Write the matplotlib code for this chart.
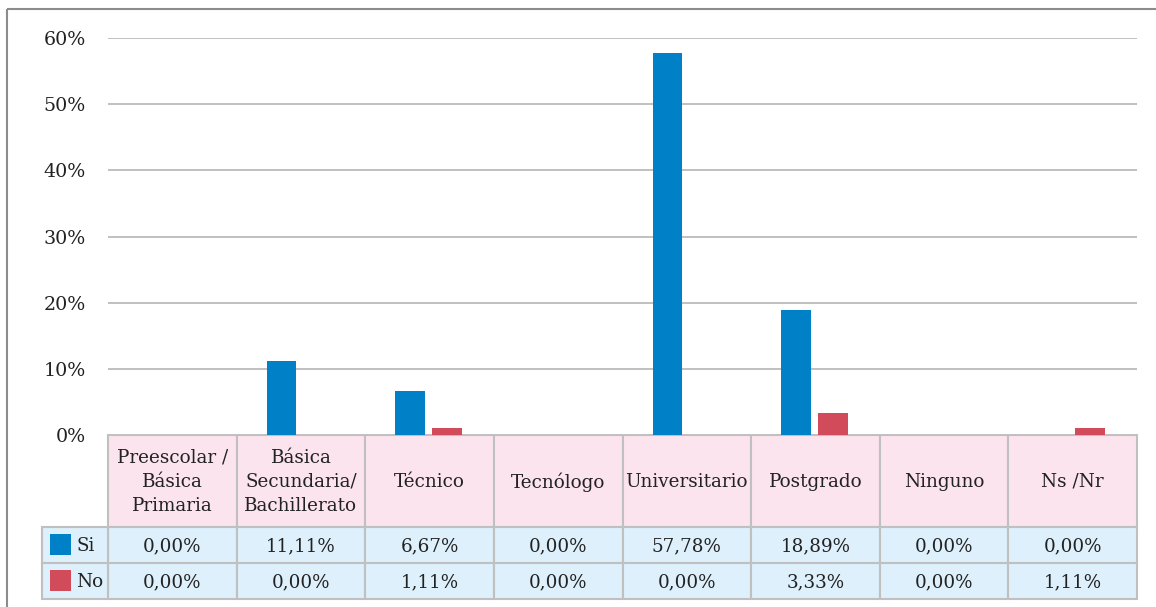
import matplotlib.pyplot as plt
from matplotlib.patches import Rectangle
import numpy as np

# data
categorias = ['Preescolar /\nBásica\nPrimaria', 'Básica\nSecundaria/\nBachillerato',
              'Técnico', 'Tecnólogo', 'Universitario', 'Postgrado', 'Ninguno', 'Ns /Nr']
si = [0.0, 11.11, 6.67, 0.0, 57.78, 18.89, 0.0, 0.0]
no = [0.0, 0.0, 1.11, 0.0, 0.0, 3.33, 0.0, 1.11]
series = ['Si', 'No']
colores = ['#0080C6', '#D14B5A']

W, H = 1156, 607
plt.rcParams['font.family'] = ['DejaVu Serif']
fig = plt.figure(figsize=(W / 100, H / 100), dpi=100)

# pixel layout
x0, x1 = 108, 1137
y_top, y_zero = 38, 435
row_hdr, row_h = 92, 36
leg_x = 42
gray = '#C0C0C0'
fs = 13.2

ax = fig.add_axes([x0 / W, 1 - y_zero / H, (x1 - x0) / W, (y_zero - y_top) / H])
n = len(categorias)
xs = np.arange(n)
bw = 0.23
ax.bar(xs - 0.15, si, bw, color=colores[0], zorder=3)
ax.bar(xs + 0.135, no, bw, color=colores[1], zorder=3)
ax.set_xlim(-0.5, n - 0.5)
ax.set_ylim(0, 60)
ax.set_yticks(range(0, 61, 10))
ax.set_yticklabels([f'{v}%' for v in range(0, 61, 10)], fontsize=fs + 0.5, color='#222222')
ax.tick_params(axis='y', length=0, pad=16)
ax.set_xticks([])
ax.grid(axis='y', color=gray, lw=1.4, zorder=0)
for s in ax.spines.values():
    s.set_visible(False)

# overlay for frame and data table
ov = fig.add_axes([0, 0, 1, 1], zorder=-1)
ov.set_xlim(0, W)
ov.set_ylim(H, 0)
ov.axis('off')
ov.plot([7, 7], [H + 10, 9], color='#8C8C8C', lw=1.5, solid_capstyle='butt')
ov.plot([7, W + 10], [9, 9], color='#8C8C8C', lw=1.5, solid_capstyle='butt')

cw = (x1 - x0) / n
vals = [si, no]
for i, cat in enumerate(categorias):
    cx = x0 + i * cw
    ov.add_patch(Rectangle((cx, y_zero), cw, row_hdr, fc='#FCE4EE', ec=gray, lw=1.5))
    ov.text(cx + cw / 2, y_zero + row_hdr / 2 + 1, cat, ha='center', va='center',
            fontsize=fs, color='#222222', linespacing=1.45)
    for r in range(2):
        ry = y_zero + row_hdr + r * row_h
        ov.add_patch(Rectangle((cx, ry), cw, row_h, fc='#DDF0FB', ec=gray, lw=1.5))
        txt = f'{vals[r][i]:.2f}%'.replace('.', ',')
        ov.text(cx + cw / 2, ry + row_h / 2 + 1, txt, ha='center', va='center',
                fontsize=fs, color='#222222')

for r in range(2):
    ry = y_zero + row_hdr + r * row_h
    ov.add_patch(Rectangle((leg_x, ry), x0 - leg_x, row_h, fc='#DDF0FB', ec=gray, lw=1.5))
    ov.add_patch(Rectangle((leg_x + 8, ry + 7), 21, 21, fc=colores[r], ec='none'))
    ov.text(leg_x + 34, ry + row_h / 2 + 1, series[r], ha='left', va='center',
            fontsize=fs, color='#222222')

fig.savefig('out.png', dpi=100)
